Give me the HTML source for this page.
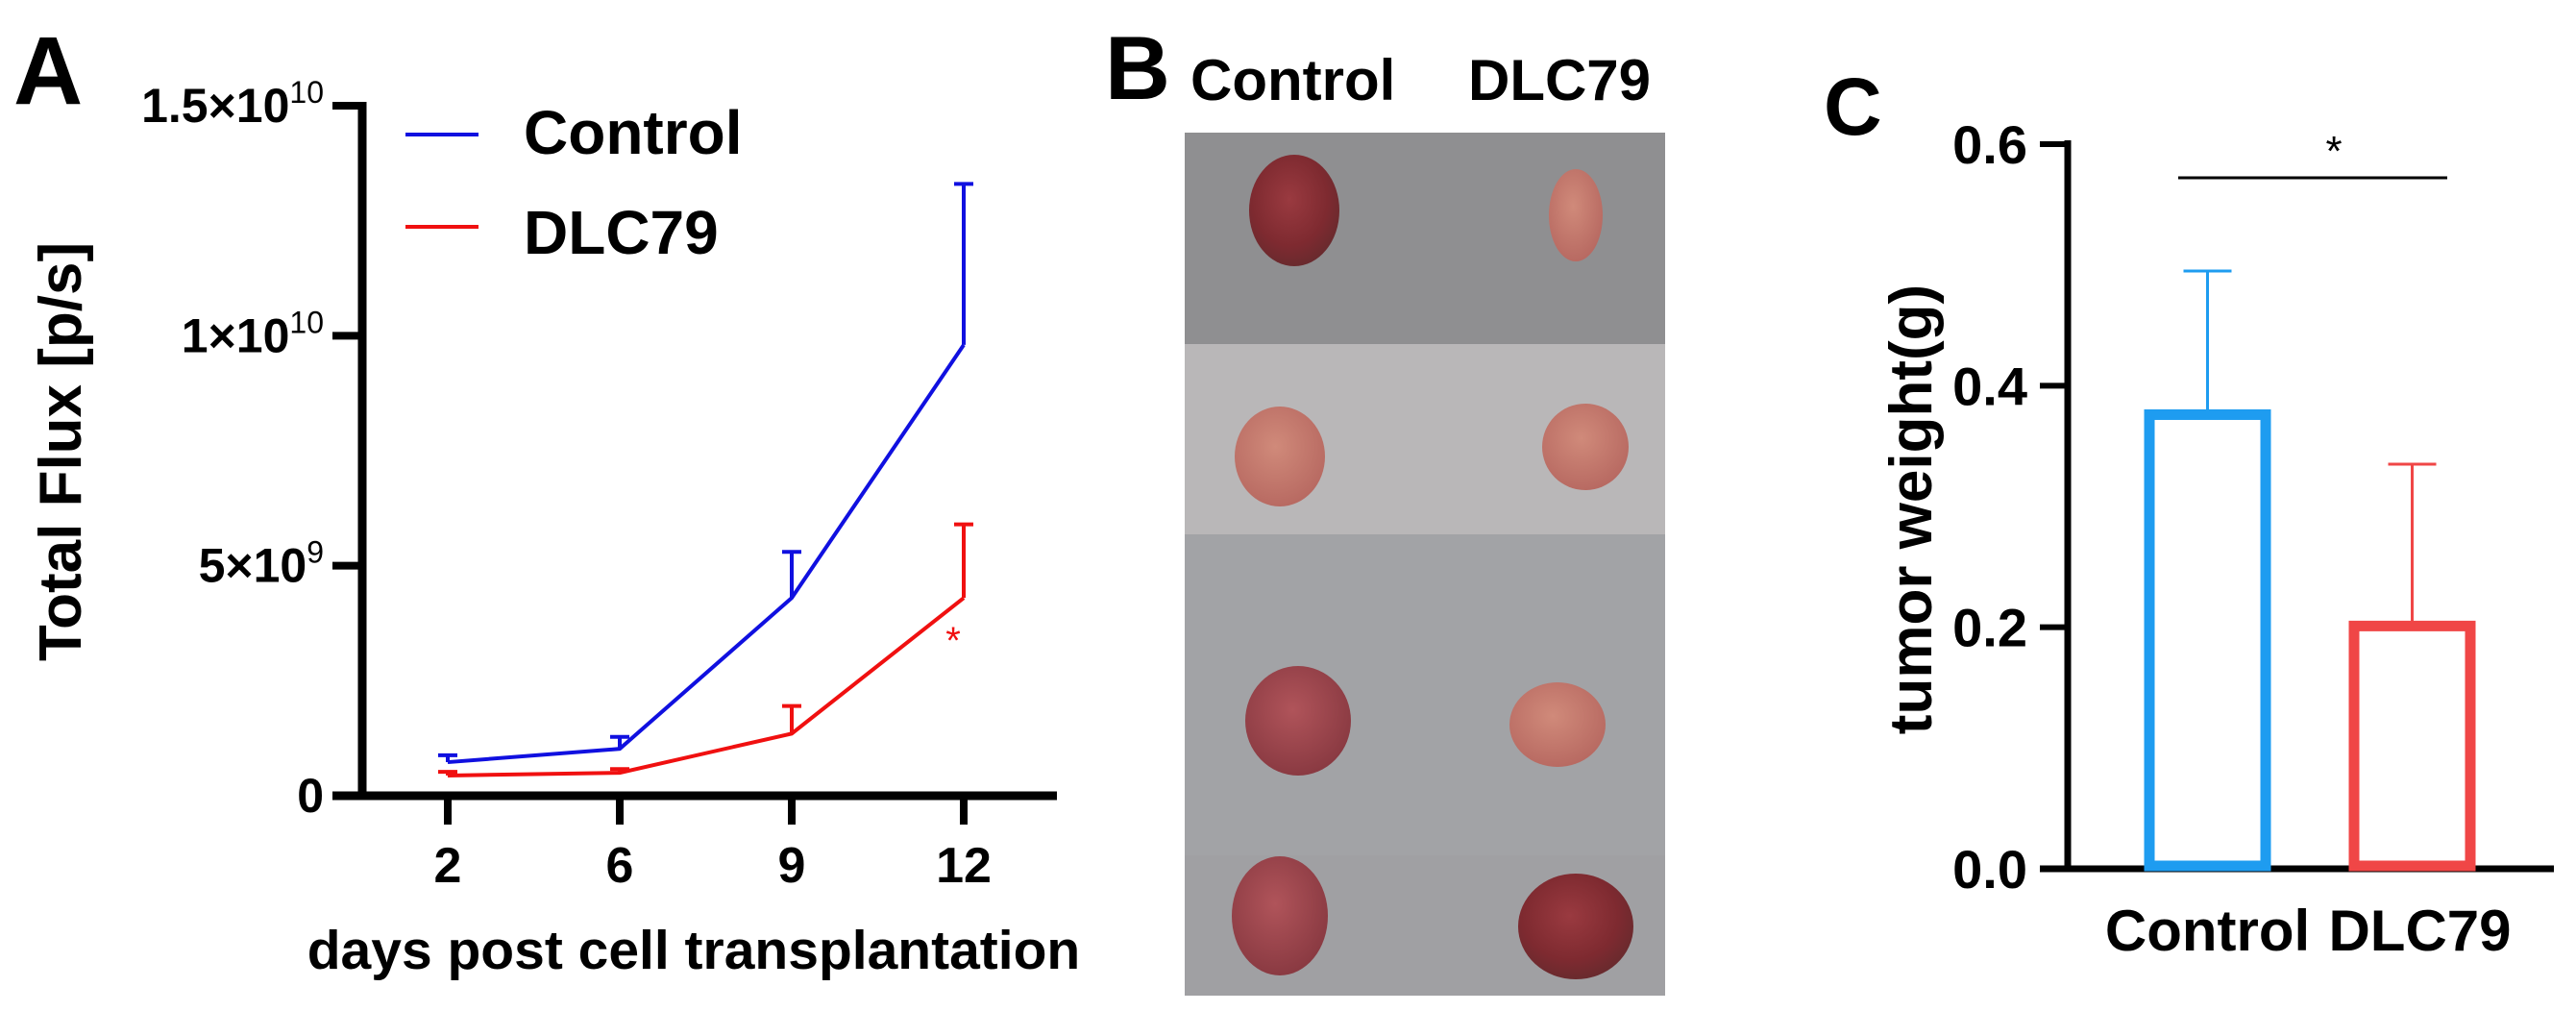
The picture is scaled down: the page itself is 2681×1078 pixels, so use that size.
<!DOCTYPE html>
<html><head><meta charset="utf-8"><style>
html,body{margin:0;padding:0;background:#fff;}
svg{display:block;font-family:"Liberation Sans",Arial,sans-serif;font-weight:bold;}
</style></head><body>
<svg id="fig" width="2681" height="1078" viewBox="0 0 2681 1078" xmlns="http://www.w3.org/2000/svg">
<defs>
<radialGradient id="tc" cx="45%" cy="40%" r="60%"><stop offset="0" stop-color="#9a3a40"/><stop offset="0.7" stop-color="#7e2a30"/><stop offset="1" stop-color="#6a2a2e"/></radialGradient>
<radialGradient id="tl" cx="45%" cy="40%" r="60%"><stop offset="0" stop-color="#d08a7a"/><stop offset="1" stop-color="#b86a62"/></radialGradient>
<radialGradient id="tm" cx="45%" cy="40%" r="60%"><stop offset="0" stop-color="#b0545a"/><stop offset="1" stop-color="#8a3a42"/></radialGradient>
</defs>
<text x="14" y="108" font-size="100">A</text>
<g id="chartA"></g>
<text x="1150" y="103" font-size="94">B</text>
<text x="1239" y="104" font-size="60">Control</text>
<text x="1528" y="104" font-size="60">DLC79</text>
<g>
<rect x="1233" y="138" width="500" height="220" fill="#8f8f91"/>
<rect x="1233" y="358" width="500" height="198" fill="#b9b7b8"/>
<rect x="1233" y="556" width="500" height="334" fill="#a2a3a6"/>
<rect x="1233" y="890" width="500" height="146" fill="#a0a0a3"/>
<ellipse cx="1347" cy="219" rx="47" ry="58" fill="url(#tc)"/>
<ellipse cx="1640" cy="224" rx="28" ry="48" fill="url(#tl)"/>
<ellipse cx="1332" cy="475" rx="47" ry="52" fill="url(#tl)"/>
<ellipse cx="1650" cy="465" rx="45" ry="45" fill="url(#tl)"/>
<ellipse cx="1351" cy="750" rx="55" ry="57" fill="url(#tm)"/>
<ellipse cx="1621" cy="754" rx="50" ry="44" fill="url(#tl)"/>
<ellipse cx="1332" cy="953" rx="50" ry="62" fill="url(#tm)"/>
<ellipse cx="1640" cy="964" rx="60" ry="55" fill="url(#tc)"/>
</g>
<text x="1898" y="140" font-size="84">C</text>
<g id="chartC"></g>
</svg>
<script>
// Panel A data
const daysA = ["2","6","9","12"];
const controlMean = [0.73e9, 1.02e9, 4.3e9, 9.8e9];
const controlErr = [0.88e9, 1.28e9, 5.3e9, 13.3e9];
const dlcMean = [0.44e9, 0.50e9, 1.35e9, 4.3e9];
const dlcErr = [0.52e9, 0.58e9, 1.95e9, 5.9e9];
const yTicksA = [0, 5e9, 1e10, 1.5e10];
const yTickBaseA = ["0", "5×10", "1×10", "1.5×10"];
const yTickExpA = ["", "9", "10", "10"];
// Panel C data
const groupsC = ["Control", "DLC79"];
const weightMean = [0.38, 0.205];
const weightErr = [0.495, 0.335];
const yTicksC = [0, 0.2, 0.4, 0.6];
const yTickLabelsC = ["0.0", "0.2", "0.4", "0.6"];

const NS = "http://www.w3.org/2000/svg";
function mk(parent, tag, attrs, txt) {
  const e = document.createElementNS(NS, tag);
  for (const k in attrs) e.setAttribute(k, attrs[k]);
  if (txt !== undefined) e.textContent = txt;
  parent.appendChild(e);
  return e;
}

// ---- Panel A ----
const gA = document.getElementById('chartA');
const ax0 = 377, ay0 = 828, ayTop = 110, yMaxA = 1.5e10;
const xA = i => 466 + i * 179;
const yA = v => ay0 - v / yMaxA * (ay0 - ayTop);
let e;
e = mk(gA, 'line', {x1: ax0, y1: ayTop - 4, x2: ax0, y2: ay0 + 4, stroke: '#000', 'stroke-width': 9});


e = mk(gA, 'line', {x1: 346, y1: ay0, x2: 1100, y2: ay0, stroke: '#000', 'stroke-width': 9});


yTicksA.forEach((v, i) => {
  const y = yA(v);
  e = mk(gA, 'line', {x1: 346, y1: y, x2: ax0, y2: y, stroke: '#000', 'stroke-width': 8});
  
  
  const t = mk(gA, 'text', {x: 337, y: y + 17, 'font-size': 50, 'text-anchor': 'end'});
  
  
  mk(t, 'tspan', {}, yTickBaseA[i]);
  if (yTickExpA[i]) mk(t, 'tspan', {dy: -20, 'font-size': 32, 'font-weight': 'normal'}, yTickExpA[i]);
});
daysA.forEach((d, i) => {
  e = mk(gA, 'line', {x1: xA(i), y1: ay0, x2: xA(i), y2: 858, stroke: '#000', 'stroke-width': 8});
  
  
  e = mk(gA, 'text', {x: xA(i), y: 918, 'font-size': 52, 'text-anchor': 'middle'}, d);
  
  
});
e = mk(gA, 'text', {x: 722, y: 1008, 'font-size': 57, 'text-anchor': 'middle'}, 'days post cell transplantation');


e = mk(gA, 'text', {x: 0, y: 0, 'font-size': 62, 'text-anchor': 'middle', transform: 'translate(84,470) rotate(-90)'}, 'Total Flux [p/s]');


function series(mean, err, color, name) {
  const g = mk(gA, 'g', {});
  
  
  mean.forEach((m, i) => {
    const l = mk(g, 'line', {x1: xA(i), y1: yA(m), x2: xA(i), y2: yA(err[i]), stroke: color, 'stroke-width': 4});
    
    
    const c = mk(g, 'line', {x1: xA(i) - 10, y1: yA(err[i]), x2: xA(i) + 10, y2: yA(err[i]), stroke: color, 'stroke-width': 4});
    
    
  });
  const p = mk(g, 'polyline', {points: mean.map((m, i) => xA(i) + ',' + yA(m)).join(' '), fill: 'none', stroke: color, 'stroke-width': 4});
  
  
}
series(controlMean, controlErr, '#1010e0', 'control');
series(dlcMean, dlcErr, '#f01010', 'dlc79');
e = mk(gA, 'text', {x: 992, y: 680, 'font-size': 40, fill: '#f01010', 'text-anchor': 'middle', 'font-weight': 'normal'}, '*');


e = mk(gA, 'line', {x1: 422, y1: 140, x2: 498, y2: 140, stroke: '#1010e0', 'stroke-width': 4});


e = mk(gA, 'text', {x: 545, y: 160, 'font-size': 64}, 'Control');


e = mk(gA, 'line', {x1: 422, y1: 236, x2: 498, y2: 236, stroke: '#f01010', 'stroke-width': 4});


e = mk(gA, 'text', {x: 545, y: 264, 'font-size': 64}, 'DLC79');



// ---- Panel C ----
const gC = document.getElementById('chartC');
const cx0 = 2152, cy0 = 904, cyTop = 150, yMaxC = 0.6;
const yC = v => cy0 - v / yMaxC * (cy0 - cyTop);
const barLeft = [2232, 2445];
const barW = 131;
const colorsC = ['#1e9cf0', '#f04646'];
e = mk(gC, 'line', {x1: cx0, y1: cyTop - 4, x2: cx0, y2: cy0, stroke: '#000', 'stroke-width': 7});


e = mk(gC, 'line', {x1: 2123, y1: cy0, x2: 2658, y2: cy0, stroke: '#000', 'stroke-width': 7});


yTicksC.forEach((v, i) => {
  e = mk(gC, 'line', {x1: 2123, y1: yC(v), x2: cx0, y2: yC(v), stroke: '#000', 'stroke-width': 6});
  
  
  e = mk(gC, 'text', {x: 2110, y: yC(v) + 20, 'font-size': 56, 'text-anchor': 'end'}, yTickLabelsC[i]);
  
  
});
groupsC.forEach((g, i) => {
  const bx = barLeft[i] + 5;
  const cxm = barLeft[i] + barW / 2;
  e = mk(gC, 'line', {x1: cxm, y1: yC(weightMean[i]), x2: cxm, y2: yC(weightErr[i]), stroke: colorsC[i], 'stroke-width': 3});
  
  
  e = mk(gC, 'line', {x1: cxm - 25, y1: yC(weightErr[i]), x2: cxm + 25, y2: yC(weightErr[i]), stroke: colorsC[i], 'stroke-width': 3});
  
  
  e = mk(gC, 'rect', {x: bx, y: yC(weightMean[i]) + 5, width: barW - 10, height: cy0 - yC(weightMean[i]) - 8, fill: '#fff', stroke: colorsC[i], 'stroke-width': 11});
  
  
  e = mk(gC, 'text', {x: cxm + (i ? 8 : 0), y: 989, 'font-size': 60, 'text-anchor': 'middle'}, g);
  
  
});
e = mk(gC, 'text', {x: 0, y: 0, 'font-size': 62, 'text-anchor': 'middle', transform: 'translate(2010,530) rotate(-90)'}, 'tumor weight(g)');


e = mk(gC, 'line', {x1: 2267, y1: 185, x2: 2547, y2: 185, stroke: '#000', 'stroke-width': 3});


e = mk(gC, 'text', {x: 2429, y: 172, 'font-size': 44, 'text-anchor': 'middle', 'font-weight': 'normal'}, '*');


</script>
</body></html>
